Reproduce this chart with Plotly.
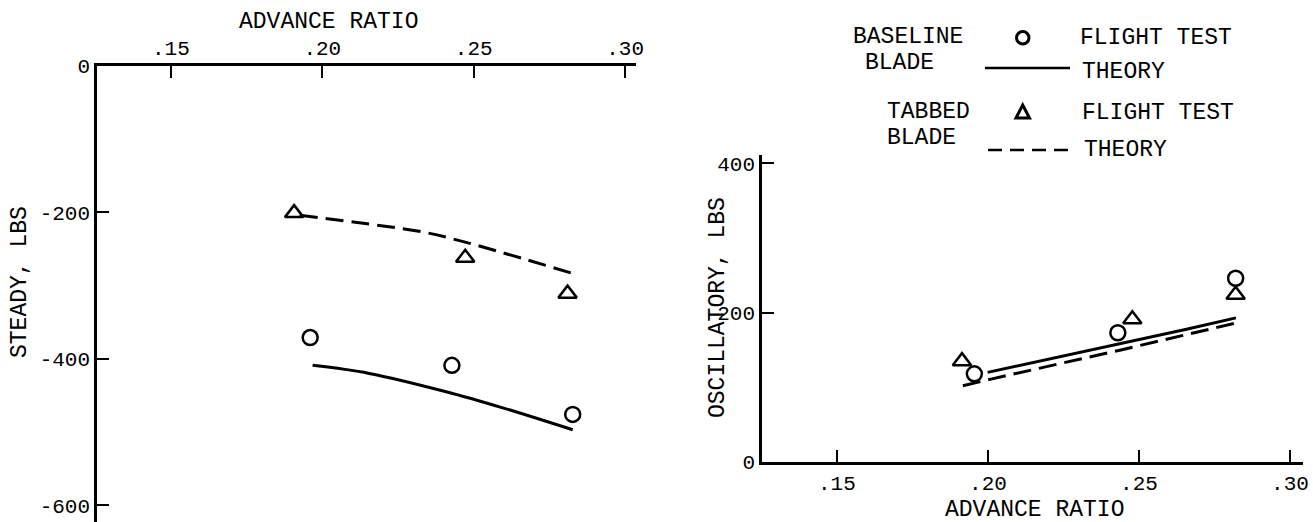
import plotly.graph_objects as go

# ---------------- data ----------------
# Left panel: steady load vs advance ratio
steady_base_test_x = [0.1960, 0.2428, 0.2827]
steady_base_test_y = [-371, -409, -476]
steady_tab_test_x = [0.1907, 0.2472, 0.2810]
steady_tab_test_y = [-201, -262, -311]
steady_base_theory_x = [0.1968, 0.2155, 0.2409, 0.2596, 0.2827]
steady_base_theory_y = [-409, -420, -445, -467, -497]
steady_tab_theory_x = [0.1925, 0.2155, 0.2335, 0.2475, 0.2832]
steady_tab_theory_y = [-204, -216, -227, -241, -284]

# Right panel: oscillatory load vs advance ratio
osc_base_test_x = [0.1955, 0.2430, 0.2820]
osc_base_test_y = [118, 173, 246]
osc_tab_test_x = [0.1914, 0.2478, 0.2820]
osc_tab_test_y = [135, 191, 224]
osc_base_theory_x = [0.1999, 0.2264, 0.2661, 0.2821]
osc_base_theory_y = [120, 143, 178, 193]
osc_tab_theory_x = [0.1917, 0.2010, 0.2440, 0.2831]
osc_tab_theory_y = [102, 111, 150, 187]

x_tick_vals = [0.15, 0.20, 0.25, 0.30]
x_tick_text = [".15", ".20", ".25", ".30"]
steady_tick_vals = [0, -200, -400, -600]
steady_tick_text = ["0", "-200", "-400", "-600"]
osc_tick_vals = [0, 200, 400]
osc_tick_text = ["0", "200", "400"]

# ---------------- layout helpers ----------------
W, H = 1313, 522
FONT = "Liberation Mono"
def px(x):
    return x / W
def py(y):
    return 1 - y / H

fig = go.Figure()
mk_circle = dict(symbol="circle-open", size=15, color="black", line=dict(width=2.5, color="black"))
mk_tri = dict(symbol="triangle-up-open", size=16, color="black", line=dict(width=2.5, color="black"))

fig.add_trace(go.Scatter(x=steady_base_theory_x, y=steady_base_theory_y, mode="lines",
                         line=dict(color="black", width=3, shape="spline"), xaxis="x", yaxis="y"))
fig.add_trace(go.Scatter(x=steady_tab_theory_x, y=steady_tab_theory_y, mode="lines",
                         line=dict(color="black", width=3, dash="18px,8px", shape="spline"), xaxis="x", yaxis="y"))
fig.add_trace(go.Scatter(x=steady_base_test_x, y=steady_base_test_y, mode="markers", marker=mk_circle,
                         xaxis="x", yaxis="y"))
fig.add_trace(go.Scatter(x=steady_tab_test_x, y=steady_tab_test_y, mode="markers", marker=mk_tri,
                         xaxis="x", yaxis="y"))
fig.add_trace(go.Scatter(x=osc_base_theory_x, y=osc_base_theory_y, mode="lines",
                         line=dict(color="black", width=3), xaxis="x2", yaxis="y2"))
fig.add_trace(go.Scatter(x=osc_tab_theory_x, y=osc_tab_theory_y, mode="lines",
                         line=dict(color="black", width=3, dash="18px,8px"), xaxis="x2", yaxis="y2"))
fig.add_trace(go.Scatter(x=osc_base_test_x, y=osc_base_test_y, mode="markers", marker=mk_circle,
                         xaxis="x2", yaxis="y2"))
fig.add_trace(go.Scatter(x=osc_tab_test_x, y=osc_tab_test_y, mode="markers", marker=mk_tri,
                         xaxis="x2", yaxis="y2"))

axis_common = dict(showline=True, linewidth=2.5, linecolor="black", showgrid=False, zeroline=False,
                   ticks="inside", ticklen=12, tickwidth=2, tickcolor="black", automargin=False,
                   ticklabeloverflow="allow",
                   tickfont=dict(family=FONT, size=21, color="black"), fixedrange=True)

fig.update_layout(
    width=W, height=H, autosize=False, margin=dict(l=0, r=0, t=0, b=0, pad=0),
    paper_bgcolor="white", plot_bgcolor="white", showlegend=False,
    xaxis=dict(domain=[px(97), px(636)], range=[0.1256, 0.3036], side="top", anchor="y",
               tickvals=x_tick_vals, ticktext=x_tick_text, **axis_common),
    yaxis=dict(domain=[0, py(66)], range=[-623, 0], anchor="x",
               tickvals=steady_tick_vals, ticktext=steady_tick_text, **axis_common),
    xaxis2=dict(domain=[px(762), px(1303)], range=[0.1252, 0.3043], anchor="y2",
                tickvals=x_tick_vals, ticktext=x_tick_text, **axis_common),
    yaxis2=dict(domain=[py(462), py(155)], range=[0, 411], anchor="x2",
                tickvals=osc_tick_vals, ticktext=osc_tick_text, **axis_common),
)

tfont = dict(family=FONT, size=23, color="black")
ann = [
    dict(text="ADVANCE RATIO", x=px(328), y=py(22)),
    dict(text="STEADY, LBS", x=px(20), y=py(282), textangle=-90),
    dict(text="ADVANCE RATIO", x=px(1034), y=py(510)),
    dict(text="OSCILLATORY, LBS", x=px(718), y=py(308), textangle=-90),
    dict(text="BASELINE", x=px(908), y=py(37)),
    dict(text="BLADE", x=px(900), y=py(63)),
    dict(text="TABBED", x=px(928), y=py(112)),
    dict(text="BLADE", x=px(921), y=py(138)),
    dict(text="FLIGHT TEST", x=px(1078), y=py(38), xanchor="left"),
    dict(text="THEORY", x=px(1080), y=py(72), xanchor="left"),
    dict(text="FLIGHT TEST", x=px(1080), y=py(113), xanchor="left"),
    dict(text="THEORY", x=px(1082), y=py(150), xanchor="left"),
]
for a in ann:
    a.setdefault("xanchor", "center")
    fig.add_annotation(xref="paper", yref="paper", showarrow=False, yanchor="middle",
                       font=tfont, **a)

# legend glyphs
fig.add_shape(type="circle", xref="paper", yref="paper",
              x0=px(1016.5), x1=px(1029), y0=py(44), y1=py(31.5),
              line=dict(color="black", width=3))
fig.add_shape(type="path", xref="paper", yref="paper",
              path=f"M {px(1016)},{py(118)} L {px(1029.5)},{py(118)} L {px(1022.7)},{py(105)} Z",
              line=dict(color="black", width=3))
fig.add_shape(type="line", xref="paper", yref="paper", x0=px(985), x1=px(1070), y0=py(68), y1=py(68),
              line=dict(color="black", width=2.5))
fig.add_shape(type="line", xref="paper", yref="paper", x0=px(988), x1=px(1070), y0=py(150), y1=py(150),
              line=dict(color="black", width=2.5, dash="14px,8px"))

fig.write_html("out.html")
